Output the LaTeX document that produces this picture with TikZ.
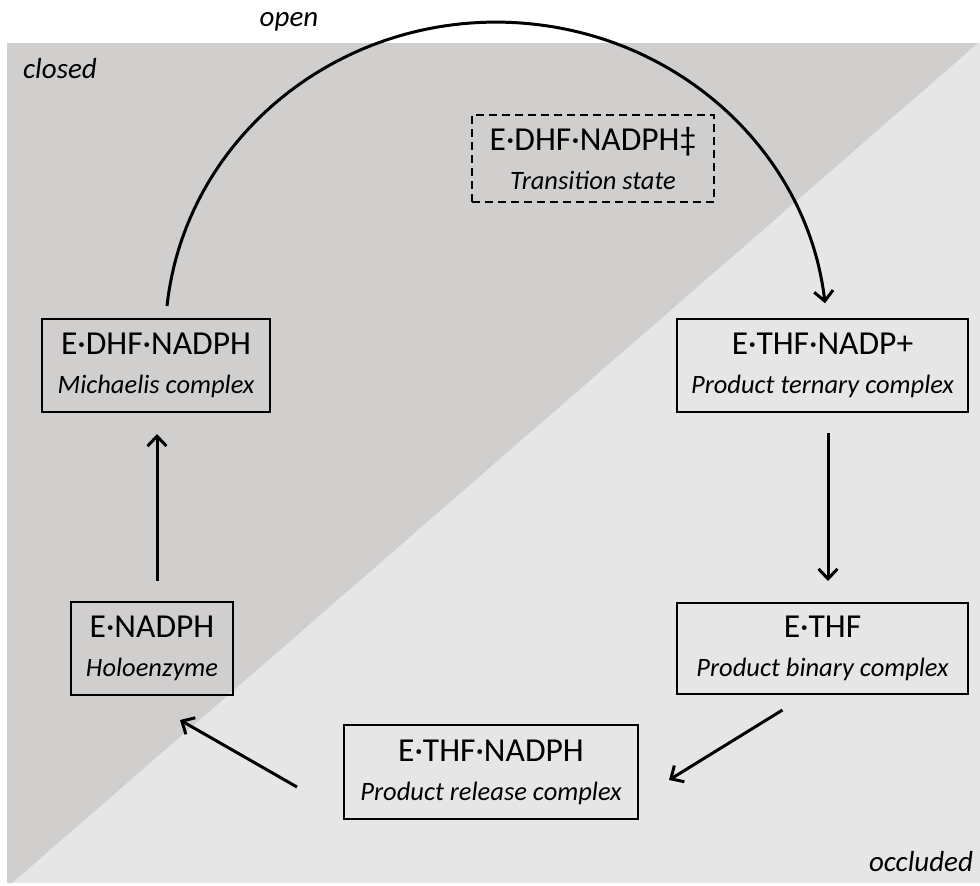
\documentclass[tikz,border=0pt]{standalone}
\usepackage{fontspec}
\setmainfont{Carlito}
\usetikzlibrary{arrows.meta,calc}
\definecolor{darkbg}{RGB}{209,206,206}
\definecolor{lightbg}{RGB}{230,230,230}
\newcommand{\ttlf}{\fontsize{33.5}{39}\selectfont}
\newcommand{\sbtf}{\fontsize{26.5}{39}\selectfont\itshape}
\tikzset{
  statebox/.style={draw=black, line width=2pt, inner sep=0pt, align=center,
    font=\ttlf, anchor=center},
  tsbox/.style={statebox, dash pattern=on 8pt off 5pt},
  arr/.style={line width=3pt, -{Straight Barb[length=10pt,width=19pt,line width=3pt]}},
  zone/.style={font=\fontsize{29}{34}\selectfont\itshape, inner sep=0pt}
}
\begin{document}
\begin{tikzpicture}[x=1pt,y=-1pt]
\useasboundingbox (0,0) rectangle (980,886);
\fill[white] (0,0) rectangle (980,886);
\fill[lightbg] (7,43) rectangle (980,883);
\fill[darkbg] (7,43) -- (978,43) -- (12,883) -- (7,883) -- cycle;

\node[zone] (lopen) at (289,22) {open};
\node[zone] (lclosed) at (60,69) {closed};
\node[zone] (locc) at (921,862) {occluded};

\node[tsbox, minimum width=242pt, minimum height=87pt] (ts) at (593,158.5)
  {E·DHF·NADPH‡\\{\sbtf Transition state}};
\node[statebox, minimum width=228pt, minimum height=93pt] (mich) at (156,365.5)
  {E·DHF·NADPH\\{\sbtf Michaelis complex}};
\node[statebox, minimum width=291pt, minimum height=93pt] (tern) at (822.5,365.5)
  {E·THF·NADP+\\{\sbtf Product ternary complex}};
\node[statebox, minimum width=291pt, minimum height=91pt] (bin) at (822.5,648.5)
  {E·THF\\{\sbtf Product binary complex}};
\node[statebox, minimum width=294pt, minimum height=94pt] (rel) at (491,772)
  {E·THF·NADPH\\{\sbtf Product release complex}};
\node[statebox, minimum width=162pt, minimum height=93pt] (holo) at (152,648.5)
  {E·NADPH\\{\sbtf Holoenzyme}};

\coordinate (arcstart) at ($(mich.north)+(11,-12)$);
\draw[arr] (arcstart) arc[start angle=174, end angle=6.5, x radius=331pt, y radius=317pt];

\draw[arr] ($(tern.south)+(5.5,20)$) -- ($(bin.north)+(5.5,-21)$);
\draw[arr] ($(bin.south)+(-40,15)$) -- ($(rel.north east)+(30,56)$);
\draw[arr] ($(rel.west)+(-46,15)$) -- ($(holo.south)+(28,24)$);
\draw[arr] ($(holo.north)+(5,-20)$) -- ($(mich.south)+(1,21)$);
\end{tikzpicture}
\end{document}
